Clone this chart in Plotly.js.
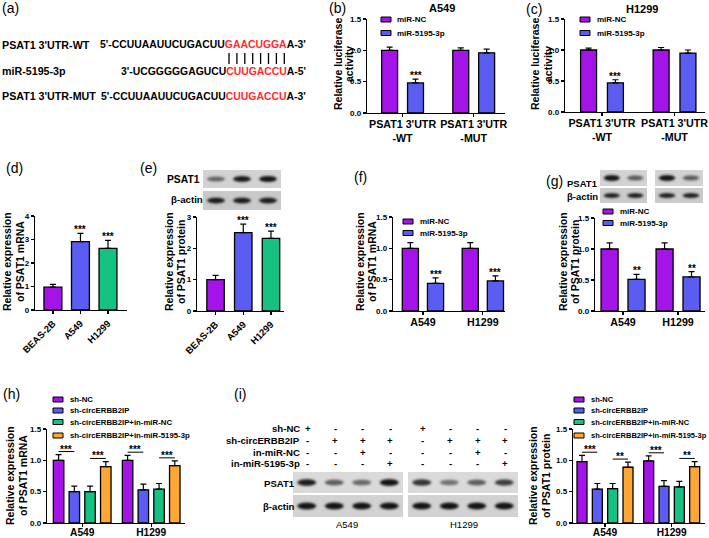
<!DOCTYPE html>
<html>
<head>
<meta charset="utf-8">
<script src="https://cdn.plot.ly/plotly-3.0.1.min.js"></script>
<style>body{margin:0;background:#fff}#plot{width:709px;height:538px}</style>
</head>
<body>
<div id="plot"></div>
<script>
// ---- data ----

// (b, c) luciferase reporter
var lucCats = ["PSAT1 3'UTR<br>-WT", "PSAT1 3'UTR<br>-MUT"];
var lucSeries = ["miR-NC", "miR-5195-3p"];
var lucA549NC = [1.00, 1.00];
var lucA549NCErr = [0.05, 0.04];
var lucA549Mir = [0.48, 0.96];
var lucA549MirErr = [0.06, 0.06];
var lucH1299NC = [1.00, 1.00];
var lucH1299NCErr = [0.03, 0.04];
var lucH1299Mir = [0.47, 0.95];
var lucH1299MirErr = [0.05, 0.05];
var lucStars = ["***", ""];

// (d, e) cell lines
var cellCats = ["BEAS-2B", "A549", "H1299"];
var cellMrna = [0.97, 2.91, 2.62];
var cellMrnaErr = [0.12, 0.35, 0.34];
var cellProt = [1.00, 2.50, 2.32];
var cellProtErr = [0.14, 0.27, 0.23];
var cellStars = ["", "***", "***"];

// (f, g) miR-5195-3p
var lineCats = ["A549", "H1299"];
var fNC = [1.00, 1.00];
var fNCErr = [0.09, 0.09];
var fMir = [0.44, 0.48];
var fMirErr = [0.09, 0.08];
var fStars = ["***", "***"];
var gNC = [1.00, 1.00];
var gNCErr = [0.10, 0.10];
var gMir = [0.51, 0.55];
var gMirErr = [0.08, 0.085];
var gStars = ["**", "**"];

// (h, i) rescue
var rescueSeries = ["sh-NC", "sh-circERBB2IP", "sh-circERBB2IP+in-miR-NC", "sh-circERBB2IP+in-miR-5195-3p"];
var hShNC = [1.00, 1.00], hShNCErr = [0.09, 0.08];
var hShCirc = [0.50, 0.53], hShCircErr = [0.09, 0.09];
var hInNC = [0.50, 0.54], hInNCErr = [0.09, 0.09];
var hInMir = [0.90, 0.915], hInMirErr = [0.08, 0.075];
var hStarsLeft = ["***", "***"], hStarsRight = ["***", "***"];
var iShNC = [0.98, 0.99], iShNCErr = [0.10, 0.08];
var iShCirc = [0.54, 0.585], iShCircErr = [0.09, 0.09];
var iInNC = [0.55, 0.575], iInNCErr = [0.08, 0.09];
var iInMir = [0.89, 0.90], iInMirErr = [0.08, 0.08];
var iStarsLeft = ["***", "***"], iStarsRight = ["**", "**"];

// (i) treatment table
var tableRows = ["sh-NC", "sh-circERBB2IP", "in-miR-NC", "in-miR-5195-3p"];
var tableSigns = [["+", "-", "-", "-"], ["-", "+", "+", "+"], ["-", "-", "+", "-"], ["-", "-", "-", "+"]];

// band strengths for the blots
var blotE = [[0.55, 0.92, 0.95], [0.9, 0.9, 0.9]];
var blotG = [[0.95, 0.6], [0.9, 0.9], [0.95, 0.6], [0.9, 0.9]];
var blotI = [[0.9, 0.6, 0.55, 0.95], [0.95, 0.95, 0.95, 0.95], [0.8, 0.5, 0.6, 0.75], [0.95, 0.95, 0.95, 0.95]];

var colors = ["#a414e8", "#5b5cf2", "#16c184", "#ffa733"];

// ---- helpers ----
var W = 709, H = 538;
var FONT = 'Arial, "Liberation Sans", sans-serif';
function fx(p) { return p / W; }
function fy(p) { return 1 - p / H; }

var traces = [], ann = [], shp = [], imgs = [];
var layout = {
  width: W, height: H, margin: {l: 0, r: 0, t: 0, b: 0},
  paper_bgcolor: "#fff", plot_bgcolor: "rgba(0,0,0,0)",
  showlegend: false, barmode: "overlay",
  font: {family: FONT, color: "#000"}
};

function txt(x, y, text, size, weight, xanchor, extra) {
  var a = {xref: "paper", yref: "paper", x: fx(x), y: fy(y), text: text, showarrow: false,
    xanchor: xanchor || "center", yanchor: "middle",
    font: {family: FONT, size: size, color: "#000", weight: weight || "bold"}};
  ann.push(Object.assign(a, extra || {}));
}

function axes(n, box, ticks, yopt, xfont, xangle, standoff) {
  var id = n === 1 ? "" : n;
  layout["xaxis" + id] = {
    domain: [fx(box.x0), fx(box.x1)], range: box.xr, anchor: "y" + id,
    tickvals: ticks.map(function (t, i) { return i; }), ticktext: ticks,
    showline: true, linecolor: "#000", linewidth: 1.3, ticks: "outside", ticklen: 3, tickwidth: 1.2,
    tickcolor: "#000", tickangle: xangle || 0, ticklabelstandoff: standoff || 0,
    tickfont: {family: FONT, size: xfont, weight: "bold", color: "#000"},
    showgrid: false, zeroline: false, fixedrange: true
  };
  layout["yaxis" + id] = {
    domain: [fy(box.bot), fy(box.top)], range: yopt.range, anchor: "x" + id,
    dtick: yopt.dtick, tickformat: yopt.fmt,
    showline: true, linecolor: "#000", linewidth: 1.3, ticks: "outside", ticklen: 3, tickwidth: 1.2,
    tickcolor: "#000", tickfont: {family: FONT, size: 8, weight: "bold", color: "#000"},
    showgrid: false, zeroline: false, fixedrange: true
  };
}

function errStyle(e) {
  return {type: "data", array: e, arrayminus: e.map(function () { return 0; }), symmetric: false,
    color: "#000", thickness: 1.2, width: 3};
}

// bars side by side inside each category; returns offsets
function groupBars(n, series, bw, gap) {
  var id = n === 1 ? "" : n;
  var k = series.length, total = k * bw + (k - 1) * gap;
  return series.map(function (s, j) {
    var off = -total / 2 + j * (bw + gap);
    traces.push({
      type: "bar", x: s.y.map(function (v, i) { return i; }), y: s.y,
      width: bw, offset: off, xaxis: "x" + id, yaxis: "y" + id,
      marker: {color: s.color, line: {color: "#000", width: 1.3}},
      error_y: errStyle(s.err), hoverinfo: "skip", showlegend: false
    });
    return off;
  });
}

function stars(n, s, off, bw, labels) {
  var id = n === 1 ? "" : n;
  labels.forEach(function (lab, i) {
    if (!lab) return;
    ann.push({xref: "x" + id, yref: "y" + id, x: i + off + bw / 2, y: s.y[i] + s.err[i],
      text: lab, showarrow: false, yanchor: "bottom", yshift: -4,
      font: {family: FONT, size: 10, weight: "bold", color: "#000"}});
  });
}

function sigPair(n, sA, sB, offA, offB, bw, labels) {
  var id = n === 1 ? "" : n;
  labels.forEach(function (lab, i) {
    var xa = i + offA + bw / 2, xb = i + offB + bw / 2;
    var y = Math.max(sA.y[i] + sA.err[i], sB.y[i] + sB.err[i]) + 0.05;
    shp.push({type: "line", xref: "x" + id, yref: "y" + id, x0: xa, x1: xb, y0: y, y1: y,
      line: {color: "#000", width: 1}});
    ann.push({xref: "x" + id, yref: "y" + id, x: (xa + xb) / 2, y: y, text: lab, showarrow: false,
      yanchor: "bottom", yshift: -5, font: {family: FONT, size: 10, weight: "bold", color: "#000"}});
  });
}

function legend(names, x, ys, textX, size) {
  names.forEach(function (nm, j) {
    shp.push({type: "rect", xref: "paper", yref: "paper", x0: fx(x), x1: fx(x + 10),
      y0: fy(ys[j] + 2.5), y1: fy(ys[j] - 2.5), fillcolor: colors[j], line: {color: "#000", width: 1}});
    txt(textX, ys[j], nm, size, "bold", "left");
  });
}

function blot(w, h, lanes, bg, bandH) {
  var s = 3, c = document.createElement("canvas");
  c.width = w * s; c.height = h * s;
  var g = c.getContext("2d");
  g.fillStyle = bg; g.fillRect(0, 0, c.width, c.height);
  g.filter = "blur(" + (1.3 * s) + "px)";
  var lw = c.width / lanes.length;
  lanes.forEach(function (a, i) {
    g.fillStyle = "rgba(10,10,10," + a + ")";
    g.beginPath();
    g.ellipse((i + 0.5) * lw, c.height / 2, lw * 0.34, bandH * s * (0.55 + 0.45 * a) / 2, 0, 0, 2 * Math.PI);
    g.fill();
  });
  return c.toDataURL();
}

function addImg(src, x0, y0, x1, y1) {
  imgs.push({source: src, xref: "paper", yref: "paper", x: fx(x0), y: fy(y0),
    sizex: (x1 - x0) / W, sizey: (y1 - y0) / H, xanchor: "left", yanchor: "top",
    sizing: "stretch", layer: "above"});
}

// ---- (a) sequences ----
var red = function (s) { return '<span style="color:#ff2a2a">' + s + "</span>"; };
var pairSeq = "GAACUGGA";
txt(10, 8, "(a)", 14, "normal");
txt(0, 45, "PSAT1 3'UTR-WT", 10.7, "bold", "left");
txt(308, 45, "5'-CCUUAAUUCUGACUU" + red(pairSeq) + "A-3'", 10.4, "bold", "right");
txt(0, 71, "miR-5195-3p", 10.7, "bold", "left");
txt(308, 71, "3'-UCGGGGGAGUCU" + red("CUUGACCU") + "A-5'", 10.4, "bold", "right");
txt(0, 96, "PSAT1 3'UTR-MUT", 10.7, "bold", "left");
txt(308, 96, "5'-CCUUAAUUCUGACUU" + red("CUUGACCU") + "A-3'", 10.4, "bold", "right");
for (var k = 0; k < pairSeq.length; k++) {
  var lx = 229 + k * 7.9;
  shp.push({type: "line", xref: "paper", yref: "paper", x0: fx(lx), x1: fx(lx), y0: fy(53), y1: fy(64),
    line: {color: "#000", width: 1.3}});
}

// ---- (b) A549 luciferase ----
var boxB = {x0: 367, x1: 505, top: 19, bot: 113, xr: [-0.5, 1.44]};
axes(1, boxB, lucCats, {range: [0, 1.5], dtick: 0.5, fmt: ".1f"}, 10.7, 0, -2);
var sB = [{y: lucA549NC, err: lucA549NCErr, color: colors[0]}, {y: lucA549Mir, err: lucA549MirErr, color: colors[1]}];
var oB = groupBars(1, sB, 0.224, 0.14);
stars(1, sB[1], oB[1], 0.224, lucStars);
txt(337, 8, "(b)", 14, "normal");
txt(442, 8, "A549", 11);
legend(lucSeries, 381, [19.5, 33], 395, 8);
txt(338, 64, "Relative luciferase", 10.5, "bold", "center", {textangle: -90});
txt(349, 64, "activity", 10.5, "bold", "center", {textangle: -90});

// ---- (c) H1299 luciferase ----
var boxC = {x0: 565, x1: 705, top: 19, bot: 112, xr: [-0.51, 1.42]};
axes(2, boxC, lucCats, {range: [0, 1.5], dtick: 0.5, fmt: ".1f"}, 10.7, 0, -2);
var sC = [{y: lucH1299NC, err: lucH1299NCErr, color: colors[0]}, {y: lucH1299Mir, err: lucH1299MirErr, color: colors[1]}];
var oC = groupBars(2, sC, 0.22, 0.15);
stars(2, sC[1], oC[1], 0.22, lucStars);
txt(534, 9, "(c)", 14, "normal");
txt(642, 9, "H1299", 11);
legend(lucSeries, 580, [19.5, 33], 595, 8);
txt(535, 64, "Relative luciferase", 10.5, "bold", "center", {textangle: -90});
txt(548, 64, "activity", 10.5, "bold", "center", {textangle: -90});

// ---- (d) mRNA in cell lines ----
var boxD = {x0: 35, x1: 127, top: 216, bot: 310, xr: [-0.65, 2.69]};
axes(3, boxD, cellCats, {range: [0, 4], dtick: 1, fmt: "d"}, 9.5, -45, 0);
var sD = {y: cellMrna, err: cellMrnaErr, color: colors.slice(0, 3)};
var oD = groupBars(3, [sD], 0.65, 0);
stars(3, sD, oD[0], 0.65, cellStars);
txt(15, 168, "(d)", 14, "normal");
txt(7, 262, "Relative expression", 10.5, "bold", "center", {textangle: -90});
txt(20, 262, "of PSAT1 mRNA", 10.5, "bold", "center", {textangle: -90});

// ---- (e) protein in cell lines ----
var boxE = {x0: 197, x1: 284, top: 217, bot: 311, xr: [-0.67, 2.47]};
axes(4, boxE, cellCats, {range: [0, 3], dtick: 1, fmt: "d"}, 9.5, -45, 0);
var sE = {y: cellProt, err: cellProtErr, color: colors.slice(0, 3)};
var oE = groupBars(4, [sE], 0.63, 0);
stars(4, sE, oE[0], 0.63, cellStars);
txt(148, 168, "(e)", 14, "normal");
txt(169, 262, "Relative expression", 10.5, "bold", "center", {textangle: -90});
txt(181, 262, "of PSAT1 protein", 10.5, "bold", "center", {textangle: -90});
txt(183, 180, "PSAT1", 10.3);
txt(187, 199, "β-actin", 9.7);
addImg(blot(78, 18, blotE[0], "#d2d2d2", 6), 203, 170, 281, 188);
addImg(blot(78, 19, blotE[1], "#c9c9c9", 6), 203, 191, 281, 210);

// ---- (f) mRNA after miR-5195-3p ----
var boxF = {x0: 393, x1: 505, top: 217, bot: 311, xr: [-0.5, 1.37]};
axes(5, boxF, lineCats, {range: [0, 1.5], dtick: 0.5, fmt: ".1f"}, 10.7, 0, -2);
var sF = [{y: fNC, err: fNCErr, color: colors[0]}, {y: fMir, err: fMirErr, color: colors[1]}];
var oF = groupBars(5, sF, 0.27, 0.15);
stars(5, sF[1], oF[1], 0.27, fStars);
txt(360, 177, "(f)", 14, "normal");
legend(lucSeries, 403, [221.5, 233], 418, 8);
txt(360, 262, "Relative expression", 10.5, "bold", "center", {textangle: -90});
txt(372, 262, "of PSAT1 mRNA", 10.5, "bold", "center", {textangle: -90});

// ---- (g) protein after miR-5195-3p ----
var boxG = {x0: 595, x1: 705, top: 218, bot: 311, xr: [-0.51, 1.49]};
axes(6, boxG, lineCats, {range: [0, 1.5], dtick: 0.5, fmt: ".1f"}, 10.7, 0, -2);
var sG = [{y: gNC, err: gNCErr, color: colors[0]}, {y: gMir, err: gMirErr, color: colors[1]}];
var oG = groupBars(6, sG, 0.31, 0.18);
stars(6, sG[1], oG[1], 0.31, gStars);
txt(554, 181, "(g)", 14, "normal");
txt(582, 183, "PSAT1", 9.5);
txt(582, 196, "β-actin", 9.5);
legend(lucSeries, 603, [211.5, 223], 618, 8);
txt(563, 262, "Relative expression", 10.5, "bold", "center", {textangle: -90});
txt(575, 262, "of PSAT1 protein", 10.5, "bold", "center", {textangle: -90});
addImg(blot(47, 16, blotG[0], "#d3d3d3", 6), 600, 170, 647, 186);
addImg(blot(47, 15, blotG[1], "#cbcbcb", 5), 600, 188, 647, 203);
addImg(blot(48, 16, blotG[2], "#d3d3d3", 6), 655, 170, 703, 186);
addImg(blot(48, 15, blotG[3], "#cbcbcb", 5), 655, 188, 703, 203);

// ---- (h) rescue mRNA ----
var boxH = {x0: 47, x1: 185, top: 429, bot: 523, xr: [-0.51, 1.49]};
axes(7, boxH, lineCats, {range: [0, 1.5], dtick: 0.5, fmt: ".1f"}, 10.2, 0, -4);
var sH = [{y: hShNC, err: hShNCErr, color: colors[0]}, {y: hShCirc, err: hShCircErr, color: colors[1]},
  {y: hInNC, err: hInNCErr, color: colors[2]}, {y: hInMir, err: hInMirErr, color: colors[3]}];
var oH = groupBars(7, sH, 0.152, 0.076);
sigPair(7, sH[0], sH[1], oH[0], oH[1], 0.152, hStarsLeft);
sigPair(7, sH[2], sH[3], oH[2], oH[3], 0.152, hStarsRight);
txt(11, 394, "(h)", 14, "normal");
legend(rescueSeries, 53, [399.5, 410.5, 422, 435.5], 68, 7.8);
txt(10, 476, "Relative expression", 10.5, "bold", "center", {textangle: -90});
txt(23, 476, "of PSAT1 mRNA", 10.5, "bold", "center", {textangle: -90});

// ---- (i) rescue protein ----
var boxI = {x0: 573, x1: 705, top: 429, bot: 523, xr: [-0.48, 1.5]};
axes(8, boxI, lineCats, {range: [0, 1.5], dtick: 0.5, fmt: ".1f"}, 10.2, 0, -4);
var sI = [{y: iShNC, err: iShNCErr, color: colors[0]}, {y: iShCirc, err: iShCircErr, color: colors[1]},
  {y: iInNC, err: iInNCErr, color: colors[2]}, {y: iInMir, err: iInMirErr, color: colors[3]}];
var oI = groupBars(8, sI, 0.15, 0.08);
sigPair(8, sI[0], sI[1], oI[0], oI[1], 0.15, iStarsLeft);
sigPair(8, sI[2], sI[3], oI[2], oI[3], 0.15, iStarsRight);
txt(240, 394, "(i)", 14, "normal");
legend(rescueSeries, 574, [399.5, 410.5, 422, 435.5], 589, 7.5);
txt(533, 476, "Relative expression", 10.5, "bold", "center", {textangle: -90});
txt(546, 476, "of PSAT1 protein", 10.5, "bold", "center", {textangle: -90});

// treatment table and blots of (i)
var blotBoxes = [[293, 403], [408, 518]];
var rowY = [428, 440, 452, 463];
tableRows.forEach(function (r, j) {
  txt(302, rowY[j], r, 9.6, "bold", "right");
  blotBoxes.forEach(function (b) {
    var lw = (b[1] - b[0]) / 4;
    tableSigns[j].forEach(function (sg, l) {
      txt(b[0] + (l + 0.5) * lw + 1, rowY[j], sg, 9.6, "bold");
    });
  });
});
txt(279, 483, "PSAT1", 9.6);
txt(279, 506, "β-actin", 9.6);
addImg(blot(110, 21, blotI[0], "#dadada", 7), 293, 472, 403, 493);
addImg(blot(110, 22, blotI[1], "#d2d2d2", 7), 293, 495, 403, 517);
addImg(blot(110, 21, blotI[2], "#dadada", 7), 408, 472, 518, 493);
addImg(blot(110, 22, blotI[3], "#d2d2d2", 7), 408, 495, 518, 517);
txt(347, 524, "A549", 9.5, "normal");
txt(464, 524, "H1299", 9.5, "normal");

layout.annotations = ann;
layout.shapes = shp;
layout.images = imgs;

Plotly.newPlot("plot", traces, layout, {displayModeBar: false, staticPlot: true});
</script>
</body>
</html>
